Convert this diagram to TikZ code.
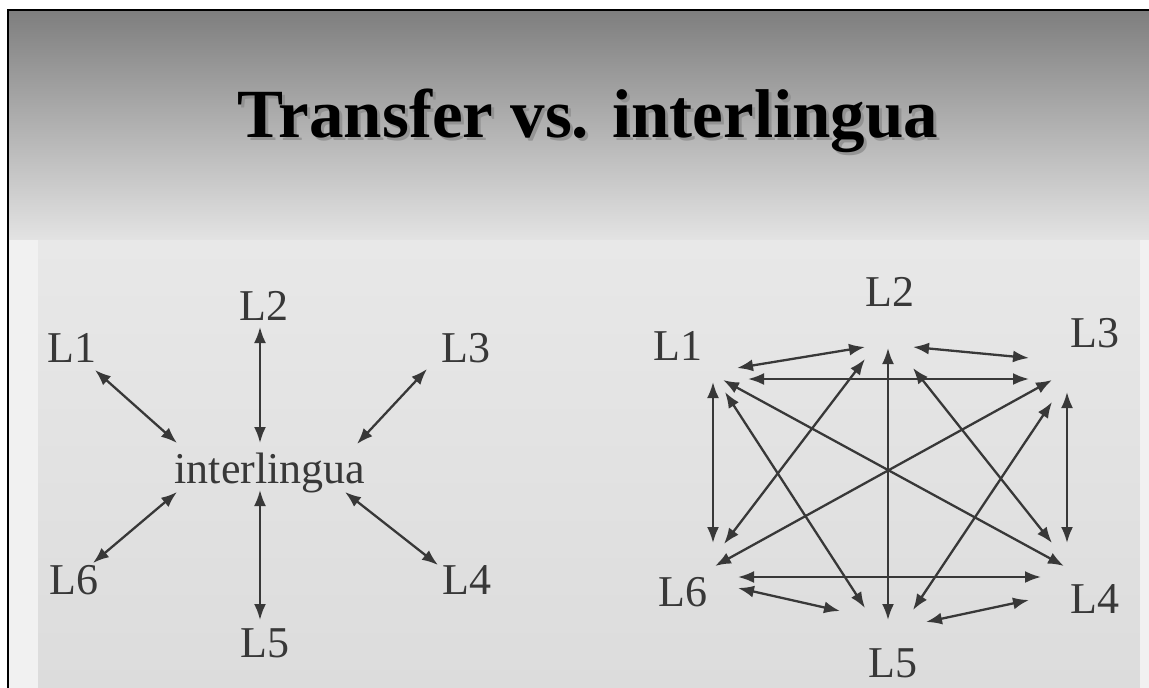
\documentclass[tikz,border=0pt]{standalone}
\usepackage{fontspec}
\setmainfont{Liberation Serif}
\usetikzlibrary{arrows.meta}
\definecolor{ink}{HTML}{383838}
\definecolor{topgray}{HTML}{7E7E7E}
\definecolor{midgray}{HTML}{E4E4E4}
\definecolor{panel}{HTML}{E8E8E8}
\definecolor{panellow}{HTML}{DCDCDC}
\definecolor{strip}{HTML}{F1F1F1}
\begin{document}
\begin{tikzpicture}[x=1pt,y=-1pt,
  lab/.style={font=\fontsize{44}{48}\selectfont, text=ink, inner sep=0pt},
  link/.style={draw=ink, line width=2.3pt, {Latex[length=16pt,width=12pt]}-{Latex[length=16pt,width=12pt]}},
  titlefont/.style={font=\fontsize{69}{72}\selectfont\bfseries, inner sep=0pt, anchor=base}]
\useasboundingbox (0,0) rectangle (1149,688);
% background
\fill[white] (0,0) rectangle (1149,688);
\shade[top color=topgray, bottom color=midgray] (8,10) rectangle (1149,242);
\fill[strip] (8,240) rectangle (38,688);
\shade[top color=panel, bottom color=panellow] (38,240) rectangle (1140,688);
\fill[strip] (1140,240) rectangle (1149,688);
\draw[black, line width=2.5pt] (7,10) -- (1149,10);
\draw[black, line width=2.5pt] (8,10) -- (8,688);
% title
\node[titlefont, text=black!45, opacity=0.8] (titleshadow) at (591,140) {Transfer vs. interlingua};
\node[titlefont, text=black] (title) at (588,137) {Transfer vs. interlingua};

% ---------- left: interlingua ----------
\node[lab] (a1) at (72,348) {L1};
\node[lab] (a2) at (264,306) {L2};
\node[lab] (a3) at (466,348) {L3};
\node[lab] (a4) at (467,580) {L4};
\node[lab] (a5) at (265,643) {L5};
\node[lab] (a6) at (74,580) {L6};
\node[lab] (il) at (270,473) {interlingua};

\coordinate (p1) at (95,370);  \coordinate (q1) at (177,443);
\coordinate (p2) at (260,327); \coordinate (q2) at (260,443);
\coordinate (p3) at (427,369); \coordinate (q3) at (357,444);
\coordinate (p6) at (93,563);  \coordinate (q6) at (177,492);
\coordinate (p5) at (260,620); \coordinate (q5) at (260,490);
\coordinate (p4) at (438,565); \coordinate (q4) at (345,492);
\foreach \i in {1,...,6} { \draw[link] (p\i) -- (q\i); }

% ---------- right: transfer ----------
\node[lab] (b1) at (678,346) {L1};
\node[lab] (b2) at (890,292) {L2};
\node[lab] (b3) at (1095,333) {L3};
\node[lab] (b4) at (1095,599) {L4};
\node[lab] (b5) at (893,663) {L5};
\node[lab] (b6) at (683,592) {L6};

\coordinate (r12a) at (737,368);  \coordinate (r12b) at (865,347);
\coordinate (r23a) at (913,347);  \coordinate (r23b) at (1029,358);
\coordinate (r13a) at (748,379);  \coordinate (r13b) at (1029,379);
\coordinate (r14a) at (723,380);  \coordinate (r14b) at (1064,566);
\coordinate (r15a) at (725,392);  \coordinate (r15b) at (865,608);
\coordinate (r16a) at (713,382);  \coordinate (r16b) at (713,543);
\coordinate (r26a) at (865,359);  \coordinate (r26b) at (724,544);
\coordinate (r25a) at (888,348);  \coordinate (r25b) at (888,620);
\coordinate (r24a) at (913,368);  \coordinate (r24b) at (1052,543);
\coordinate (r36a) at (1052,380); \coordinate (r36b) at (715,566);
\coordinate (r35a) at (1052,402); \coordinate (r35b) at (913,610);
\coordinate (r34a) at (1067,392); \coordinate (r34b) at (1067,543);
\coordinate (r64a) at (738,577);  \coordinate (r64b) at (1041,577);
\coordinate (r65a) at (738,588);  \coordinate (r65b) at (840,611);
\coordinate (r54a) at (926,622);  \coordinate (r54b) at (1029,600);
\foreach \e in {12,23,13,14,15,16,26,25,24,36,35,34,64,65,54} {
  \draw[link] (r\e a) -- (r\e b);
}
\end{tikzpicture}
\end{document}
